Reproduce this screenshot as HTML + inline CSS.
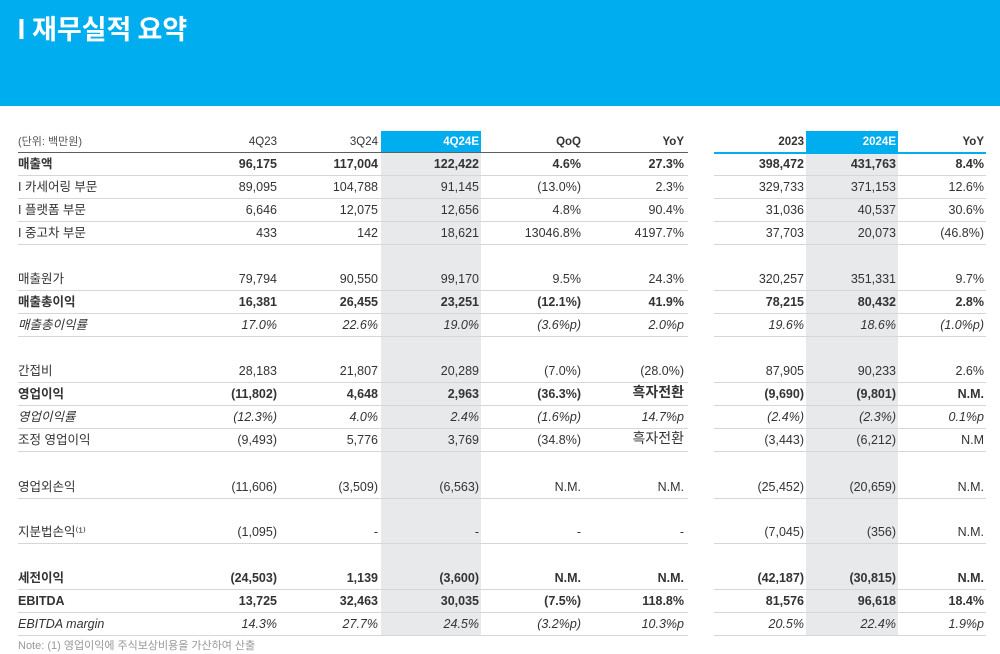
<!DOCTYPE html>
<html><head><meta charset="utf-8">
<style>
body{margin:0;width:1000px;height:653px;background:#fff;position:relative;overflow:hidden;font-family:"Liberation Sans","Noto Sans CJK KR",sans-serif;color:#333}
#band{position:absolute;left:0;top:0;width:1000px;height:106px;background:#00aeef}
#title{position:absolute;left:17px;top:8px;font-size:27px;font-weight:bold;color:#fff;font-family:"Noto Sans CJK KR","Liberation Sans",sans-serif}
.t{position:absolute;font-size:12.5px;white-space:nowrap;line-height:16px}
.r{text-align:right}
.ln{position:absolute;height:1px;background:#d4d6d9}
.shade{position:absolute;background:#e8e9eb}
</style></head><body>
<div id="band"></div>
<div id="title">I 재무실적 요약</div>
<div class="shade" style="left:381px;top:131px;width:100px;height:504px"></div>
<div class="shade" style="left:806px;top:131px;width:92px;height:504px"></div>
<div class="shade" style="left:381px;top:131px;width:100px;height:21px;background:#00aeef"></div>
<div class="shade" style="left:806px;top:131px;width:92px;height:21px;background:#00aeef"></div>
<div class="ln" style="left:18px;top:152px;width:670px;background:#5a6068"></div>
<div class="ln" style="left:714px;top:152px;width:272px;height:2px;background:#00aeef"></div>
<div id="tbl"></div>
<div class="t" style="left:18px;top:638px;font-size:11px;color:#999">Note: (1) 영업이익에 주식보상비용을 가산하여 산출</div>
<script>
const headers=["4Q23","3Q24","4Q24E","QoQ","YoY","2023","2024E","YoY"];
const colRight=[277,378,479,581,684,804,896,984];
const labels=["매출액","I 카세어링 부문","I 플랫폼 부문","I 중고차 부문","매출원가","매출총이익","매출총이익률","간접비","영업이익","영업이익률","조정 영업이익","영업외손익","지분법손익⁽¹⁾","세전이익","EBITDA","EBITDA margin"];
const rowY=[164,187,210,233,279,302,325,371,394,417,440,487,532,578,601,624];
const styles=["b","","","","","b","i","","b","i","","","","b","b","i"];
const values=[
["96,175","117,004","122,422","4.6%","27.3%","398,472","431,763","8.4%"],
["89,095","104,788","91,145","(13.0%)","2.3%","329,733","371,153","12.6%"],
["6,646","12,075","12,656","4.8%","90.4%","31,036","40,537","30.6%"],
["433","142","18,621","13046.8%","4197.7%","37,703","20,073","(46.8%)"],
["79,794","90,550","99,170","9.5%","24.3%","320,257","351,331","9.7%"],
["16,381","26,455","23,251","(12.1%)","41.9%","78,215","80,432","2.8%"],
["17.0%","22.6%","19.0%","(3.6%p)","2.0%p","19.6%","18.6%","(1.0%p)"],
["28,183","21,807","20,289","(7.0%)","(28.0%)","87,905","90,233","2.6%"],
["(11,802)","4,648","2,963","(36.3%)","흑자전환","(9,690)","(9,801)","N.M."],
["(12.3%)","4.0%","2.4%","(1.6%p)","14.7%p","(2.4%)","(2.3%)","0.1%p"],
["(9,493)","5,776","3,769","(34.8%)","흑자전환","(3,443)","(6,212)","N.M"],
["(11,606)","(3,509)","(6,563)","N.M.","N.M.","(25,452)","(20,659)","N.M."],
["(1,095)","-","-","-","-","(7,045)","(356)","N.M."],
["(24,503)","1,139","(3,600)","N.M.","N.M.","(42,187)","(30,815)","N.M."],
["13,725","32,463","30,035","(7.5%)","118.8%","81,576","96,618","18.4%"],
["14.3%","27.7%","24.5%","(3.2%p)","10.3%p","20.5%","22.4%","1.9%p"]];
const tbl=document.getElementById('tbl');
function add(cls,txt,css){const d=document.createElement('div');d.className=cls;d.textContent=txt;d.style.cssText=css;tbl.appendChild(d);return d;}
let u=add('t','(단위: 백만원)','left:18px;top:134px;font-size:11px;color:#555');


headers.forEach((h,i)=>{
  const hl=(i==2||i==6);
  const d=add('t r',h,`left:${colRight[i]-90}px;width:90px;top:134px;font-size:11.5px;color:${hl?'#fff':'#333'};font-weight:${i>=3||hl?'bold':'normal'}`);
  
  
});
labels.forEach((lab,r)=>{
  const y=rowY[r];
  const st=styles[r]=='b'?'font-weight:bold;':styles[r]=='i'?'font-style:italic;':'';
  const l=add('t',lab,`left:18px;top:${y-8}px;${st}`);
  
  
  values[r].forEach((v,c)=>{
    const big=v=='흑자전환'?'font-size:14px;top:'+(y-10)+'px;':'top:'+(y-8)+'px;';
    const d=add('t r',v,`left:${colRight[c]-100}px;width:100px;${st}${big}`);
    
    
  });
  const a=add('ln','',`left:18px;top:${y+11}px;width:670px`);
  
  
  const b=add('ln','',`left:714px;top:${y+11}px;width:272px`);
  
  
});
</script>
</body></html>
